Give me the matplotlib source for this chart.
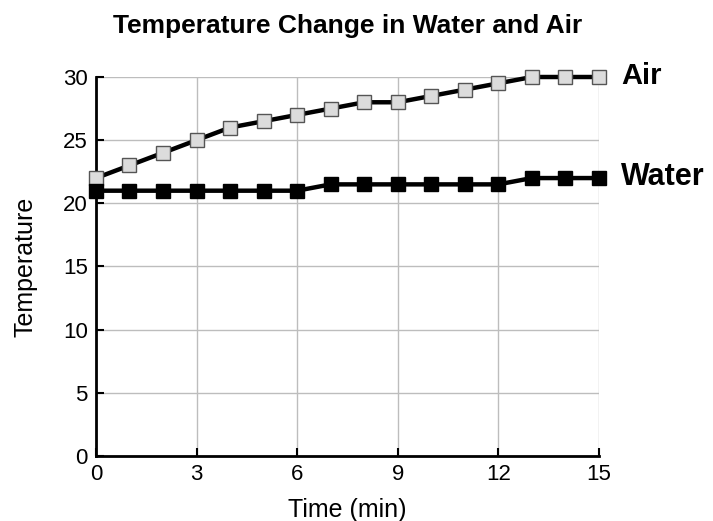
import matplotlib
matplotlib.use("Agg")
import matplotlib.pyplot as plt

# --- Donnees ---
minutes = list(range(16))
air   = [22, 23, 24, 25, 26, 26.5, 27, 27.5, 28, 28, 28.5, 29, 29.5, 30, 30, 30]
water = [21, 21, 21, 21, 21, 21, 21, 21.5, 21.5, 21.5, 21.5, 21.5, 21.5, 22, 22, 22]
xticks = [0, 3, 6, 9, 12, 15]
yticks = [0, 5, 10, 15, 20, 25, 30]

INK = "#000000"
GRID = "#bdbdbd"
AIR_FILL = "#dcdcdc"

plt.rcParams.update({
    "font.family": ["Liberation Sans", "DejaVu Sans"],
    "text.color": INK,
})

fig = plt.figure(figsize=(7.13, 5.21), dpi=100)
ax = fig.add_axes([0.1346, 0.1248, 0.7054, 0.7274])

ax.plot(minutes, air, color=INK, linewidth=3.2, marker="s", markersize=10.5,
        markerfacecolor=AIR_FILL, markeredgecolor="#555555", markeredgewidth=1,
        zorder=3, clip_on=False)
ax.plot(minutes, water, color=INK, linewidth=3.2, marker="s", markersize=10.5,
        markerfacecolor=INK, markeredgecolor=INK, zorder=3, clip_on=False)

ax.set_xlim(0, 15)
ax.set_ylim(0, 30)
ax.set_xticks(xticks)
ax.set_yticks(yticks)
ax.tick_params(direction="in", length=6, width=1.5, labelsize=16, pad=6)
ax.grid(True, color=GRID, linewidth=1, zorder=0)
ax.set_axisbelow(True)
for side in ("top", "right"):
    ax.spines[side].set_visible(False)
for side in ("left", "bottom"):
    ax.spines[side].set_linewidth(2)

ax.set_xlabel("Time (min)", fontsize=18, labelpad=9)
ax.set_ylabel("Temperature", fontsize=18, labelpad=18)
ax.set_title("Temperature Change in Water and Air", fontsize=19,
             fontweight="bold", pad=32)

# Etiquettes directes en bout de courbe
ax.annotate("Air", xy=(minutes[-1], air[-1]), xytext=(16, 1),
            textcoords="offset points", fontsize=21, fontweight="bold",
            va="center", ha="left", annotation_clip=False)
ax.annotate("Water", xy=(minutes[-1], water[-1]), xytext=(16, 1),
            textcoords="offset points", fontsize=22, fontweight="bold",
            va="center", ha="left", annotation_clip=False)

fig.savefig("out.png", dpi=100)
